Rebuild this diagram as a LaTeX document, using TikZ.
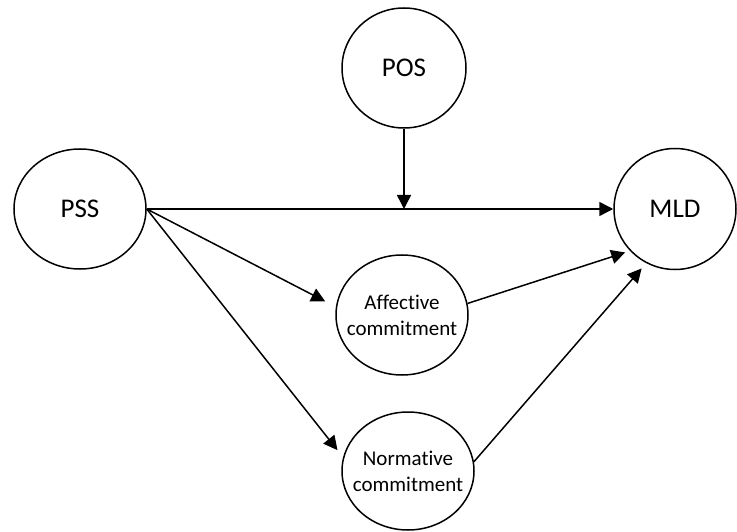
\documentclass[tikz,border=0pt]{standalone}
\usepackage{fontspec}
\setmainfont[Ligatures=NoCommon]{Carlito}
\usetikzlibrary{shapes.geometric,arrows.meta}
\begin{document}
\begin{tikzpicture}[x=1pt,y=-1pt,
  var/.style={ellipse,draw,line width=1.5pt,inner sep=-30pt,
    font=\fontsize{27}{32}\selectfont},
  med/.style={ellipse,draw,line width=1.5pt,inner sep=-30pt,align=center,
    font=\fontsize{21}{26}\selectfont},
  link/.style={line width=1.5pt,-{Triangle[length=14pt,width=14pt]}}]
\useasboundingbox (0,0) rectangle (737,532);

% constructs
\node[var,minimum width=132pt,minimum height=120pt] (pss) at (80,209) {PSS};
\node[var,minimum width=124pt,minimum height=120pt] (pos) at (404,68) {POS};
\node[var,minimum width=122pt,minimum height=121pt] (mld) at (675,209) {MLD};
\node[med,minimum width=132pt,minimum height=120pt] (aff) at (402,315) {Affective\\commitment};
\node[med,minimum width=132pt,minimum height=118pt] (nor) at (408,471) {Normative\\commitment};

% moderation point on the direct path
\coordinate (mod) at (pos.south |- pss.east);

% paths
\draw[link] (pss.east) -- (mld.west);
\draw[link] (pos.south) -- (mod);
\draw[link,shorten >=12pt] (pss.east) -- (aff.173);
\draw[link,shorten >=9pt] (pss.east) -- (nor.168);
\draw[link,shorten >=5pt] (aff.10) -- (mld.223);
\draw[link,shorten >=7pt] (nor.8) -- (mld.242);
\end{tikzpicture}
\end{document}
